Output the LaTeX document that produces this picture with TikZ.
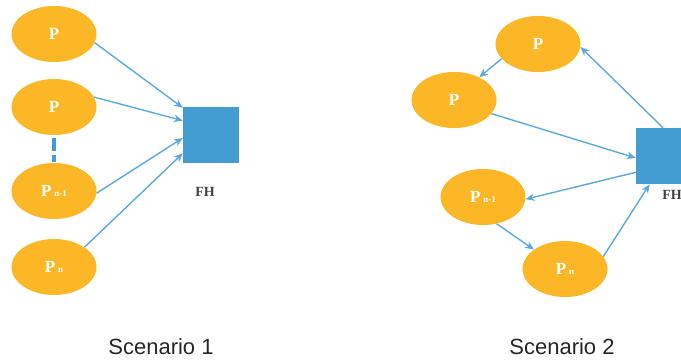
\documentclass[tikz,border=0pt]{standalone}
\usepackage{fontspec}
\setmainfont{Liberation Serif}
\setsansfont{Liberation Sans}
\usetikzlibrary{positioning,arrows.meta,shapes.geometric}
\definecolor{peerorange}{RGB}{252,183,38}
\definecolor{fhblue}{RGB}{67,157,210}
\definecolor{linkblue}{RGB}{90,170,225}
\tikzset{
  peer/.style={ellipse,fill=peerorange,minimum width=85pt,minimum height=56pt,inner sep=0pt,text=white,font=\fontsize{17}{18}\selectfont\bfseries},
  fhbox/.style={rectangle,fill=fhblue,minimum size=56pt,inner sep=0pt},
  fhlabel/.style={inner sep=0pt,font=\fontsize{14}{15}\selectfont\bfseries,text=black!75},
  caption/.style={inner sep=0pt,font=\sffamily\fontsize{22}{24}\selectfont,text=black!85},
  link/.style={-{Stealth[length=9pt,width=7.5pt]},line width=1.4pt,draw=linkblue},
}
\newcommand{\sub}[1]{\,{\fontsize{9}{10}\selectfont #1}}
\begin{document}
\begin{tikzpicture}[x=1pt,y=-1pt]
  \useasboundingbox (0,0) rectangle (681,360);
  % scenario 1
  \node[peer] (a1) at (54,34) {P};
  \node[peer] (a2) at (54,107) {P};
  \node[peer] (a3) at (54,191) {P\sub{n-1}};
  \node[peer] (a4) at (54,267) {P\sub{n}};
  \node[fhbox] (fh1) at (211,135) {};
  \node[fhlabel] (fhl1) at (205,192) {FH};
  \draw[line width=4.5pt,draw=fhblue,dash pattern=on 13pt off 4pt,shorten <=3pt,shorten >=1pt] (a2.south) -- (a3.north);
  \draw[link] (a1.-12) -- (fh1.136);
  \draw[link] (a2.14) -- (fh1.153);
  \draw[link] (a3.-3) -- (fh1.186);
  \draw[link] (a4.33) -- (fh1.213);
  \node[caption] (cap1) at (161,347) {Scenario 1};
  % scenario 2
  \node[peer] (b1) at (538,44) {P};
  \node[peer] (b2) at (454,100) {P};
  \node[peer] (b3) at (483,197) {P\sub{n-1}};
  \node[peer] (b4) at (565,269) {P\sub{n}};
  \node[fhbox] (fh2) at (664,156) {};
  \node[fhlabel] (fhl2) at (672,195) {FH};
  \draw[link] (fh2.92) -- (b1.-4);
  \draw[link] (b1.202) -- (b2.42);
  \draw[link] (b2.-20) -- (fh2.184);
  \draw[link] (fh2.210) -- (b3.-3);
  \draw[link] (b3.-63) -- (b4.148);
  \draw[link] (b4.18) -- (fh2.243);
  \node[caption] (cap2) at (562,347) {Scenario 2};
\end{tikzpicture}
\end{document}
